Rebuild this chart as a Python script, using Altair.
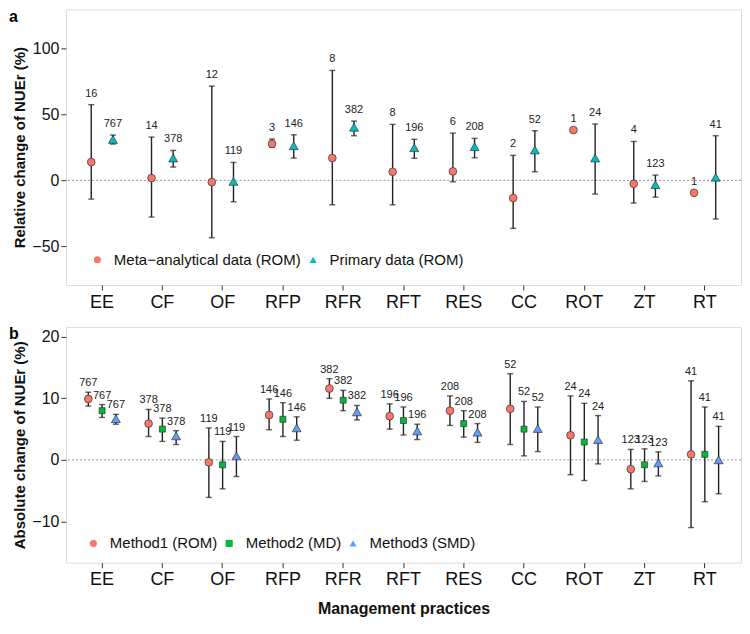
import altair as alt
import pandas as pd

FONT = "Arial"

categories = ["EE", "CF", "OF", "RFP", "RFR", "RFT", "RES", "CC", "ROT", "ZT", "RT"]

# ---- panel a: relative change (%) ----
groups_a = ["Meta\u2212analytical data (ROM)", "Primary data (ROM)"]
meta_mean = [13.9, 1.7, -1.3, 27.7, 16.9, 6.5, 6.8, -13.4, 38.1, -2.6, -9.4]
meta_low = [-14.2, -27.8, -43.5, 25.0, -18.5, -18.5, -1.1, -36.4, None, -17.2, None]
meta_high = [57.3, 32.8, 71.4, 31.3, 83.3, 42.4, 35.8, 18.9, None, 29.5, None]
meta_n = [16, 14, 12, 3, 8, 8, 6, 2, 1, 4, 1]

prim_mean = [31.0, 16.9, -0.8, 26.2, 40.2, 24.7, 25.5, 23.0, 16.9, -3.3, 2.3]
prim_low = [27.5, 10.1, -16.2, 16.9, 33.8, 16.7, 17.1, 6.5, -10.4, -12.7, -29.3]
prim_high = [34.3, 22.7, 13.6, 34.5, 44.9, 31.1, 31.8, 37.6, 42.7, 4.0, 33.8]
prim_n = [767, 378, 119, 146, 382, 196, 208, 52, 24, 123, 41]

# ---- panel b: absolute change (%) ----
groups_b = ["Method1 (ROM)", "Method2 (MD)", "Method3 (SMD)"]
m1_mean = [9.9, 5.9, -0.4, 7.3, 11.6, 7.1, 8.0, 8.3, 4.0, -1.5, 0.9]
m1_low = [8.75, 3.8, -6.1, 4.9, 10.0, 5.0, 5.6, 2.5, -2.4, -4.7, -11.0]
m1_high = [11.0, 8.2, 5.2, 9.9, 13.2, 9.1, 10.4, 14.0, 10.4, 1.7, 12.85]

m2_mean = [8.0, 5.0, -0.8, 6.6, 9.7, 6.4, 5.9, 5.0, 2.9, -0.8, 0.9]
m2_low = [6.9, 3.0, -4.7, 3.8, 8.0, 4.05, 3.7, 0.65, -3.35, -3.5, -6.8]
m2_high = [9.0, 6.8, 3.0, 9.3, 11.3, 8.6, 8.0, 9.5, 9.2, 1.8, 8.6]

m3_mean = [6.7, 3.9, 0.65, 5.2, 7.8, 4.7, 4.5, 5.1, 3.3, -0.5, 0.0]
m3_low = [5.8, 2.5, -2.7, 3.2, 6.5, 3.3, 2.85, 1.35, -0.65, -2.6, -5.5]
m3_high = [7.4, 4.75, 3.8, 7.0, 8.85, 5.8, 5.9, 8.6, 7.2, 1.3, 5.45]
b_n = [767, 378, 119, 146, 382, 196, 208, 52, 24, 123, 41]

panel_letters = ["a", "b"]
zero_line = [0]


def build(groups, series):
    rows = []
    for g, (mean, low, high, n) in zip(groups, series):
        for c, m, lo, hi, k in zip(categories, mean, low, high, n):
            rows.append({
                "cat": c, "group": g, "mean": m,
                "low": lo, "high": hi, "n": str(k),
                "label_y": hi if hi is not None else m,
            })
    return pd.DataFrame(rows)


df_a = build(groups_a, [(meta_mean, meta_low, meta_high, meta_n),
                        (prim_mean, prim_low, prim_high, prim_n)])
df_b = build(groups_b, [(m1_mean, m1_low, m1_high, b_n),
                        (m2_mean, m2_low, m2_high, b_n),
                        (m3_mean, m3_low, m3_high, b_n)])

PLOT_W = 676


def panel(df, groups, colors, shapes, sizes, ydom, yticks, ytitle, pad_outer,
          letter, lx, ly, label_dy, height, xtitle, col_pad):
    x_enc = alt.X("cat:N", sort=categories,
                  scale=alt.Scale(domain=categories, paddingInner=0, paddingOuter=0.1),
                  axis=alt.Axis(labelAngle=0, title=xtitle, domain=False, grid=False,
                                tickSize=5, tickColor="#333", labelFontSize=18,
                                labelPadding=3, labelColor="#111", titleFontSize=16,
                                titleFontWeight="bold", titlePadding=12,
                                titleColor="#111"))
    xo_enc = alt.XOffset("group:N", sort=groups,
                         scale=alt.Scale(domain=groups, paddingInner=0, paddingOuter=pad_outer))
    y_scale = alt.Scale(domain=ydom, nice=False, zero=False)
    y_axis = alt.Axis(values=yticks, title=ytitle, grid=False, domain=False, tickSize=5,
                      tickColor="#333", labelFontSize=16, labelColor="#111", labelPadding=2,
                      titleFontSize=15, titleFontWeight="bold", titlePadding=4,
                      titleColor="#111")

    base = alt.Chart(df).encode(x=x_enc, xOffset=xo_enc)

    zero = alt.Chart(pd.DataFrame({"z": zero_line})).mark_rule(
        color="#777", strokeDash=[2, 2], strokeWidth=0.8
    ).encode(y=alt.Y("z:Q", scale=y_scale, axis=y_axis))

    bars = base.mark_rule(color="#222", strokeWidth=1.4).encode(
        y=alt.Y("low:Q", scale=y_scale, axis=y_axis), y2="high:Q")
    cap_lo = base.mark_tick(color="#222", size=6, thickness=1.4).encode(
        y=alt.Y("low:Q", scale=y_scale))
    cap_hi = base.mark_tick(color="#222", size=6, thickness=1.4).encode(
        y=alt.Y("high:Q", scale=y_scale))

    leg = alt.Legend(orient="none", legendX=lx, legendY=ly, direction="horizontal",
                     title=None, labelFontSize=15, labelColor="#111", symbolSize=50,
                     symbolStrokeWidth=0, labelOffset=9, columnPadding=col_pad, padding=0,
                     labelFont=FONT, labelLimit=0)
    color_enc = alt.Color("group:N", sort=groups,
                          scale=alt.Scale(domain=groups, range=colors), legend=leg)
    shape_enc = alt.Shape("group:N", sort=groups,
                          scale=alt.Scale(domain=groups, range=shapes), legend=leg)

    pts = []
    for g, s in zip(groups, sizes):
        pts.append(
            base.transform_filter(alt.datum.group == g).mark_point(
                filled=True, opacity=1, stroke="#333", strokeWidth=0.7, size=s
            ).encode(y=alt.Y("mean:Q", scale=y_scale), color=color_enc, shape=shape_enc)
        )

    labels = base.mark_text(fontSize=11, color="#222", fill="#222", dy=label_dy,
                            font=FONT).encode(
        y=alt.Y("label_y:Q", scale=y_scale), text="n:N")

    let = alt.Chart(pd.DataFrame({"t": [letter]})).mark_text(
        align="left", baseline="top", fontSize=16, fontWeight="bold", color="#000",
        font=FONT
    ).encode(x=alt.value(-57), y=alt.value(-0.5), text="t:N")

    return alt.layer(zero, bars, cap_lo, cap_hi, *pts, labels, let).properties(
        width=PLOT_W, height=height)


pa = panel(df_a, groups_a, ["#F8766D", "#00BFC4"], ["circle", "triangle-up"], [60, 80],
           [-79.3, 129.5], [-50, 0, 50, 100], "Relative change of NUEr (%)", 0.39,
           panel_letters[0], 24, 243, -11, 276, None, 4)
pb = panel(df_b, groups_b, ["#F8766D", "#00BA38", "#619CFF"],
           ["circle", "square", "triangle-up"], [60, 36, 80],
           [-16.7, 21.6], [-10, 0, 10, 20], "Absolute change of NUEr (%)", 0.687,
           panel_letters[1], 20, 209, -9, 236, "Management practices", 4)

chart = alt.vconcat(pa, pb, spacing=42, bounds="flush").resolve_scale(
    color="independent", shape="independent",
    y="independent", x="independent", xOffset="independent"
).resolve_legend(color="independent", shape="independent").properties(
    padding={"left": 0, "top": 0, "right": 0, "bottom": 0}
).configure_view(stroke="#555", strokeWidth=1).configure(font=FONT)

chart.save("out.html", embed_options={"renderer": "svg", "actions": False})
